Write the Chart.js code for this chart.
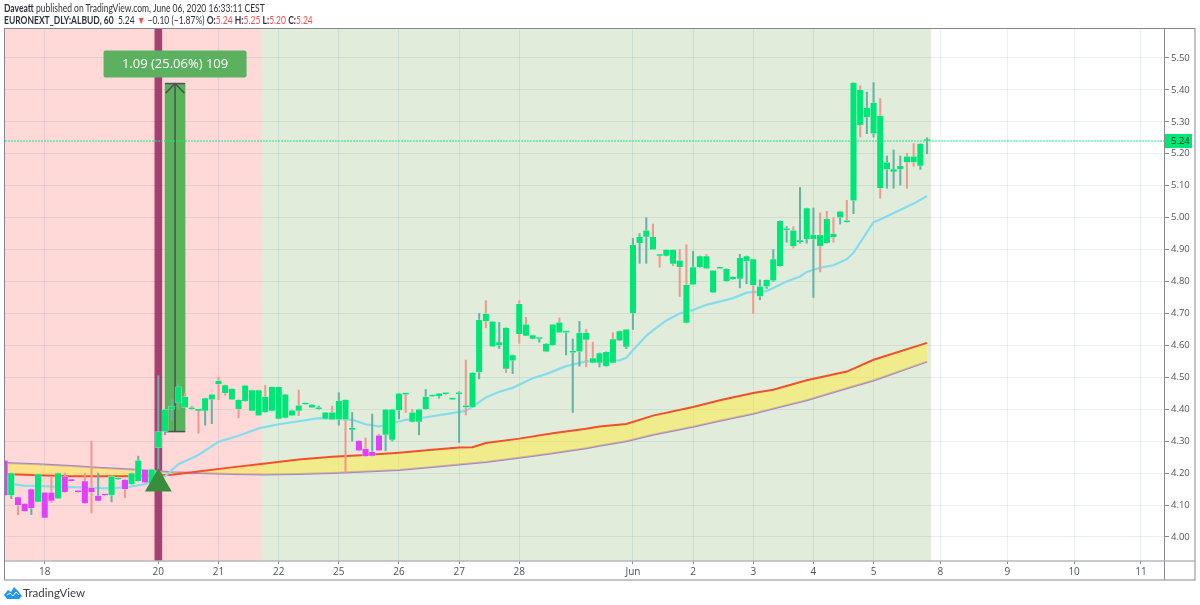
<!DOCTYPE html>
<html>
<head>
<meta charset="utf-8">
<title>EURONEXT_DLY:ALBUD, 60</title>
<script src="https://cdn.jsdelivr.net/npm/chart.js@4"></script>
<style>
    body { margin: 0; background: #fff; }
    #wrap { position: relative; width: 1200px; height: 605px; overflow: hidden; font-family: "Lato", sans-serif; color: #30323a; }
    #line1, #line2, #brand { position: absolute; white-space: nowrap; }
    #line1, #line2 { transform: scaleX(0.81); transform-origin: left top; }
    #line1 { left: 4px; top: 2px; font-size: 10.5px; line-height: 12px; }
    #line2 { left: 4px; top: 14px; font-size: 10.5px; line-height: 12px; }
    #line2 .down { color: #ef5350; }
    #brand { left: 23px; top: 586px; font-size: 11.5px; line-height: 13px; color: #3a3d45; }
    #cloud { position: absolute; left: 4px; top: 587px; }
</style>
</head>
<body>
<div id="wrap">
    <div id="line1"><b>Daveatt</b> published on TradingView.com, June 06, 2020 16:33:11 CEST</div>
    <div id="line2"><b>EURONEXT_DLY:ALBUD, 60</b>&nbsp; 5.24 <span class="down">&#9660;</span> &minus;0.10 (&minus;1.87%) <b>O:</b><span class="down">5.24</span> <b>H:</b><span class="down">5.25</span> <b>L:</b><span class="down">5.20</span> <b>C:</b><span class="down">5.24</span></div>
    <canvas id="chart" width="1200" height="605"></canvas>
    <svg id="cloud" width="18" height="12" viewBox="0 0 18 12"><path fill="#2196f3" d="M0 8 L4 3 L7 5 L10 0 L14 4 L18 9 L15 12 L3 12 Z"/><path fill="none" stroke="#fff" stroke-width="1" d="M3 8 L6 6 L9 9 L12 5 L15 8"/></svg>
    <div id="brand">TradingView</div>
</div>
<script>
// bar numbers of the day labels on the time axis
var tickBars = [6, 23, 32, 41, 50, 59, 68, 77, 94, 103, 112, 121, 130, 140, 150, 160, 170];
var tickLabels = ['18', '20', '21', '22', '25', '26', '27', '28', 'Jun', '2', '3', '4', '5', '8', '9', '10', '11'];
var priceTicks = [4.0, 4.1, 4.2, 4.3, 4.4, 4.5, 4.6, 4.7, 4.8, 4.9, 5.0, 5.1, 5.2, 5.3, 5.4, 5.5];

// hourly candles
var opens = [
    4.24, 4.13, 4.125, 4.105, 4.09, 4.11, 4.14, 4.14, 4.12, 4.19,
    4.18, 4.146, 4.175, 4.155, 4.113, 4.13, 4.13, 4.18, 4.18, 4.165,
    4.175, 4.21, 4.168, 4.28, 4.33, 4.40, 4.42, 4.44, 4.406, 4.40,
    4.395, 4.43, 4.49, 4.476, 4.465, 4.43, 4.425, 4.46, 4.46, 4.44,
    4.395, 4.47, 4.373, 4.38, 4.412, 4.415, 4.405, 4.40, 4.37, 4.39,
    4.367, 4.43, 4.335, 4.302, 4.277, 4.254, 4.318, 4.32, 4.304, 4.396,
    4.45, 4.39, 4.36, 4.40, 4.44, 4.44, 4.447, 4.43, 4.447, 4.41,
    4.406, 4.515, 4.70, 4.675, 4.60, 4.656, 4.552, 4.73, 4.666, 4.632,
    4.62, 4.58, 4.60, 4.672, 4.64, 4.577, 4.58, 4.64, 4.56, 4.545,
    4.534, 4.62, 4.615, 4.595, 4.70, 4.92, 4.94, 4.94, 4.885, 4.88,
    4.90, 4.866, 4.79, 4.79, 4.845, 4.88, 4.835, 4.84, 4.80, 4.807,
    4.808, 4.864, 4.87, 4.753, 4.784, 4.803, 4.848, 4.96, 4.96, 4.923,
    4.933, 4.933, 4.946, 4.996, 4.95, 5.0, 4.99, 5.053, 5.40, 5.314,
    5.263, 5.32, 5.151, 5.143, 5.151, 5.192, 5.192, 5.162, 5.24
];
var highs = [
    4.24, 4.20, 4.125, 4.105, 4.15, 4.197, 4.14, 4.19, 4.20, 4.20,
    4.18, 4.146, 4.20, 4.30, 4.20, 4.13, 4.19, 4.18, 4.18, 4.20,
    4.253, 4.21, 4.212, 4.505, 4.40, 4.43, 4.48, 4.45, 4.41, 4.40,
    4.435, 4.447, 4.50, 4.476, 4.465, 4.43, 4.475, 4.46, 4.46, 4.475,
    4.47, 4.47, 4.447, 4.397, 4.46, 4.415, 4.415, 4.41, 4.39, 4.41,
    4.452, 4.43, 4.39, 4.302, 4.31, 4.385, 4.322, 4.40, 4.40, 4.45,
    4.45, 4.40, 4.40, 4.462, 4.44, 4.45, 4.447, 4.43, 4.455, 4.554,
    4.515, 4.70, 4.74, 4.675, 4.672, 4.656, 4.57, 4.74, 4.688, 4.632,
    4.62, 4.606, 4.666, 4.686, 4.64, 4.62, 4.675, 4.65, 4.61, 4.576,
    4.58, 4.64, 4.645, 4.65, 4.935, 4.95, 5.00, 4.98, 4.885, 4.90,
    4.90, 4.90, 4.915, 4.895, 4.88, 4.885, 4.835, 4.84, 4.84, 4.815,
    4.885, 4.88, 4.87, 4.805, 4.805, 4.90, 4.99, 4.972, 4.972, 5.095,
    5.03, 5.03, 5.015, 5.02, 5.0, 5.02, 5.054, 5.423, 5.413, 5.393,
    5.423, 5.373, 5.193, 5.212, 5.193, 5.202, 5.232, 5.232, 5.25
];
var lows = [
    4.13, 4.12, 4.07, 4.08, 4.07, 4.11, 4.06, 4.108, 4.12, 4.14,
    4.175, 4.14, 4.105, 4.075, 4.113, 4.13, 4.11, 4.18, 4.123, 4.165,
    4.175, 4.17, 4.168, 4.20, 4.32, 4.365, 4.40, 4.405, 4.40, 4.325,
    4.35, 4.355, 4.43, 4.444, 4.43, 4.373, 4.425, 4.395, 4.38, 4.39,
    4.395, 4.37, 4.373, 4.38, 4.38, 4.415, 4.405, 4.40, 4.37, 4.367,
    4.35, 4.20, 4.30, 4.27, 4.252, 4.254, 4.27, 4.27, 4.30, 4.37,
    4.39, 4.36, 4.32, 4.40, 4.44, 4.435, 4.447, 4.43, 4.296, 4.382,
    4.406, 4.495, 4.655, 4.596, 4.59, 4.515, 4.512, 4.606, 4.63, 4.62,
    4.61, 4.58, 4.60, 4.64, 4.57, 4.39, 4.535, 4.533, 4.545, 4.532,
    4.534, 4.545, 4.615, 4.59, 4.65, 4.857, 4.857, 4.90, 4.845, 4.88,
    4.85, 4.753, 4.67, 4.79, 4.845, 4.84, 4.765, 4.84, 4.80, 4.807,
    4.78, 4.793, 4.70, 4.743, 4.778, 4.80, 4.848, 4.923, 4.905, 4.92,
    4.92, 4.75, 4.83, 4.92, 4.923, 4.98, 4.985, 5.0125, 5.252, 5.263,
    5.252, 5.061, 5.092, 5.092, 5.102, 5.092, 5.161, 5.151, 5.20
];
var closes = [
    4.13, 4.20, 4.10, 4.08, 4.15, 4.197, 4.06, 4.113, 4.20, 4.14,
    4.175, 4.14, 4.105, 4.14, 4.13, 4.13, 4.19, 4.18, 4.15, 4.20,
    4.24, 4.17, 4.212, 4.33, 4.40, 4.41, 4.47, 4.405, 4.40, 4.395,
    4.435, 4.447, 4.478, 4.45, 4.43, 4.40, 4.475, 4.395, 4.38, 4.39,
    4.47, 4.37, 4.447, 4.397, 4.395, 4.415, 4.415, 4.402, 4.39, 4.367,
    4.426, 4.367, 4.342, 4.27, 4.252, 4.267, 4.27, 4.40, 4.40, 4.45,
    4.446, 4.36, 4.40, 4.44, 4.44, 4.45, 4.447, 4.43, 4.447, 4.406,
    4.515, 4.68, 4.675, 4.596, 4.61, 4.526, 4.57, 4.635, 4.63, 4.62,
    4.62, 4.606, 4.666, 4.64, 4.64, 4.58, 4.64, 4.617, 4.545, 4.576,
    4.58, 4.545, 4.645, 4.65, 4.915, 4.94, 4.96, 4.90, 4.88, 4.90,
    4.855, 4.845, 4.67, 4.845, 4.88, 4.84, 4.765, 4.84, 4.84, 4.815,
    4.874, 4.88, 4.788, 4.785, 4.805, 4.87, 4.99, 4.96, 4.91, 4.93,
    5.03, 4.947, 4.91, 4.92, 4.938, 5.02, 4.985, 5.423, 5.29, 5.344,
    5.36, 5.092, 5.173, 5.152, 5.162, 5.173, 5.173, 5.232, 5.24
];
// bars painted magenta by the script on the chart
var magentaBars = [0, 2, 3, 4, 6, 7, 9, 10, 11, 12, 13, 14, 15, 18, 21, 53, 54, 55, 56];

// light blue average
var emaBars = [0, 3, 5, 8, 12, 15, 18, 21, 24, 26, 29, 32, 35, 38, 41, 44, 47, 50, 52, 54, 56, 58, 60, 63, 66, 69, 70, 72, 74, 76, 79, 81, 84, 87, 89, 92, 93, 94, 96, 97, 99, 101, 103, 105, 109, 111, 114, 117, 119, 120, 122, 124, 126, 127, 130, 131, 136, 138];
var emaValues = [4.17, 4.16, 4.16, 4.157, 4.155, 4.152, 4.155, 4.165, 4.19, 4.228, 4.257, 4.298, 4.317, 4.34, 4.353, 4.3625, 4.372, 4.37, 4.367, 4.353, 4.346, 4.356, 4.367, 4.375, 4.385, 4.395, 4.408, 4.437, 4.455, 4.467, 4.497, 4.51, 4.535, 4.55, 4.552, 4.553, 4.561, 4.585, 4.63, 4.647, 4.678, 4.70, 4.711, 4.727, 4.748, 4.765, 4.77, 4.80, 4.816, 4.83, 4.843, 4.851, 4.87, 4.89, 4.986, 4.994, 5.044, 5.068];

// red and purple averages with the yellow band between them
var bandBars = [0, 5, 10, 14, 19, 23, 25, 29, 34, 39, 44, 49, 54, 59, 64, 68, 70, 72, 77, 82, 87, 89, 93, 97, 103, 107, 112, 115, 120, 126, 130, 138];
var redValues = [4.197, 4.193, 4.19, 4.19, 4.19, 4.193, 4.195, 4.205, 4.218, 4.23, 4.243, 4.251, 4.257, 4.264, 4.273, 4.28, 4.281, 4.294, 4.308, 4.325, 4.339, 4.346, 4.354, 4.38, 4.407, 4.428, 4.451, 4.461, 4.491, 4.518, 4.555, 4.608];
var purpleValues = [4.232, 4.228, 4.222, 4.217, 4.211, 4.206, 4.203, 4.2, 4.197, 4.196, 4.197, 4.2, 4.205, 4.21, 4.219, 4.227, 4.231, 4.235, 4.248, 4.262, 4.278, 4.286, 4.30, 4.32, 4.345, 4.364, 4.386, 4.402, 4.428, 4.466, 4.49, 4.549];

var signalBar = 23;
var signalPrice = 4.167;
var lastPrice = 5.24;

// price range drawing
var measureFrom = 24;
var measureTo = 27;
var measureLow = 4.33;
var measureHigh = 5.42;
var measureText = '1.09 (25.06%) 109';

// background zones: [from bar, to bar]
var pinkZone = [0.06, 38.5];
var greenZone = [38.5, 138.6];

var xMin = 0.06, xMax = 173.6;
var yMin = 3.9248, yMax = 5.5908;

var GREEN = '#00e676';
var MAGENTA = '#e040fb';
var WICK_UP = '#66b3a6';
var WICK_DOWN = '#ee9a90';

var wickData = [], bodyData = [], wickColors = [], bodyColors = [];
for (var i = 0; i < opens.length; i++) {
    wickData.push({ x: i, y: [lows[i], highs[i]] });
    bodyData.push({ x: i, y: [opens[i], closes[i]] });
    wickColors.push(closes[i] >= opens[i] ? WICK_UP : WICK_DOWN);
    bodyColors.push(magentaBars.indexOf(i) >= 0 ? MAGENTA : GREEN);
}

function linePoints(xs, ys) {
    return xs.map(function(v, n) { return { x: v, y: ys[n] }; });
}

var measureMid = (measureFrom + measureTo) / 2;
var arrowSpread = 1.4, arrowDrop = 0.03;

// zones and frame
var chromePlugin = {
    id: 'chrome',
    beforeDraw: function(chart) {
        var c = chart.ctx, a = chart.chartArea, x = chart.scales.x;
        c.save();
        c.fillStyle = '#ffd9d8';
        c.fillRect(x.getPixelForValue(pinkZone[0]), a.top, x.getPixelForValue(pinkZone[1]) - x.getPixelForValue(pinkZone[0]), a.height);
        c.fillStyle = '#e1edda';
        c.fillRect(x.getPixelForValue(greenZone[0]), a.top, x.getPixelForValue(greenZone[1]) - x.getPixelForValue(greenZone[0]), a.height);
        c.restore();
    },
    afterDraw: function(chart) {
        var c = chart.ctx, a = chart.chartArea, x = chart.scales.x, y = chart.scales.y;
        c.save();
        c.strokeStyle = '#85888f';
        c.lineWidth = 1;
        c.strokeRect(4.5, 28.5, 1190.5, 551.5);
        c.beginPath();
        c.moveTo(a.right - 0.5, a.top);
        c.lineTo(a.right - 0.5, 580);
        c.stroke();
        c.strokeStyle = '#b4b6bc';
        c.lineWidth = 1.5;
        c.beginPath();
        c.moveTo(5, a.bottom);
        c.lineTo(1195, a.bottom);
        c.stroke();

        // last price tag
        var py = y.getPixelForValue(lastPrice);
        c.fillStyle = GREEN;
        c.fillRect(a.right, py - 7, 27, 14);
        c.fillStyle = '#10331f';
        c.font = '9.5px "Open Sans"';
        c.textAlign = 'left';
        c.textBaseline = 'middle';
        c.fillText(lastPrice.toFixed(2), a.right + 6, py + 0.5);

        // measure label
        var mx = x.getPixelForValue(measureMid);
        var my = y.getPixelForValue(measureHigh);
        c.fillStyle = '#5cb160';
        c.beginPath();
        c.roundRect(mx - 71.5, my - 33, 143, 27, 2);
        c.fill();
        c.fillStyle = '#fff';
        c.font = '13px "Open Sans"';
        c.textAlign = 'center';
        c.fillText(measureText, mx, my - 19);
        c.restore();
    }
};

var datasets = [
    // candle bodies on top, triangle above them
    { type: 'line', order: 0, data: [{ x: signalBar, y: signalPrice }], showLine: false, pointStyle: 'triangle', pointRadius: 15.5, pointBackgroundColor: '#388e3c', pointBorderWidth: 0 },
    { type: 'bar', order: 1, data: bodyData, backgroundColor: bodyColors, borderColor: 'rgba(255,255,255,0.55)', borderWidth: 0.5, borderSkipped: false, barThickness: 6.5, grouped: false, minBarLength: 2 },
    { type: 'bar', order: 2, data: wickData, backgroundColor: wickColors, barThickness: 1.4, grouped: false },
    { type: 'line', order: 3, data: linePoints(emaBars, emaValues), borderColor: '#84dcee', borderWidth: 2.2, pointRadius: 0, tension: 0 },
    { type: 'line', order: 4, data: linePoints(bandBars, redValues), borderColor: '#f1502b', borderWidth: 2, pointRadius: 0, tension: 0, fill: '+1', backgroundColor: 'rgba(255,235,59,0.5)' },
    { type: 'line', order: 5, data: linePoints(bandBars, purpleValues), borderColor: '#a484cf', borderWidth: 2, pointRadius: 0, tension: 0 },
    { type: 'line', order: 6, data: [{ x: xMin, y: lastPrice }, { x: xMax, y: lastPrice }], borderColor: '#1fe886', borderWidth: 1, borderDash: [2, 1], pointRadius: 0 },
    // price range arrow and caps
    { type: 'line', order: 7, data: [{ x: measureMid, y: measureLow }, { x: measureMid, y: measureHigh }], borderColor: '#4c4f57', borderWidth: 1.5, pointRadius: 0 },
    { type: 'line', order: 7, data: [{ x: measureMid - arrowSpread, y: measureHigh - arrowDrop }, { x: measureMid, y: measureHigh }, { x: measureMid + arrowSpread, y: measureHigh - arrowDrop }], borderColor: '#4c4f57', borderWidth: 1.5, pointRadius: 0 },
    { type: 'line', order: 7, data: [{ x: measureFrom, y: measureHigh }, { x: measureTo, y: measureHigh }], borderColor: '#4c4f57', borderWidth: 1.5, pointRadius: 0 },
    { type: 'line', order: 7, data: [{ x: measureFrom, y: measureLow }, { x: measureTo, y: measureLow }], borderColor: '#4c4f57', borderWidth: 1.5, pointRadius: 0 },
    { type: 'bar', order: 8, data: [{ x: measureMid, y: [measureLow, measureHigh] }], backgroundColor: 'rgba(76,175,80,0.92)', barThickness: 20, grouped: false },
    // signal band
    { type: 'bar', order: 9, data: [{ x: signalBar, y: [yMin, yMax] }], backgroundColor: 'rgba(136,14,79,0.75)', barThickness: 7, grouped: false }
];

var gridColor = 'rgba(42,100,150,0.1)';

new Chart(document.getElementById('chart').getContext('2d'), {
    data: { datasets: datasets },
    plugins: [chromePlugin],
    options: {
        responsive: false,
        animation: false,
        events: [],
        devicePixelRatio: 1,
        layout: { autoPadding: false, padding: { left: 5, top: 29, right: 5, bottom: 25 } },
        plugins: { legend: { display: false }, tooltip: { enabled: false } },
        scales: {
            x: {
                type: 'linear',
                offset: false,
                min: xMin,
                max: xMax,
                border: { display: false },
                grid: { offset: false, color: gridColor, tickColor: '#85888f', tickLength: 3 },
                ticks: {
                    color: '#50535e',
                    font: { family: '"Open Sans"', size: 10 },
                    padding: 2,
                    maxRotation: 0,
                    autoSkip: false,
                    callback: function(v) { return tickLabels[tickBars.indexOf(v)]; }
                },
                afterBuildTicks: function(s) { s.ticks = tickBars.map(function(v) { return { value: v }; }); },
                afterFit: function(s) { s.height = 19; s.paddingLeft = 0; s.paddingRight = 0; }
            },
            y: {
                type: 'linear',
                position: 'right',
                min: yMin,
                max: yMax,
                border: { display: false },
                grid: { color: gridColor, tickColor: '#85888f', tickLength: 4 },
                ticks: {
                    color: '#50535e',
                    font: { family: '"Open Sans"', size: 9.5 },
                    padding: 2,
                    callback: function(v) { return v.toFixed(2); }
                },
                afterBuildTicks: function(s) { s.ticks = priceTicks.map(function(v) { return { value: v }; }); },
                afterFit: function(s) { s.width = 30; s.paddingTop = 0; s.paddingBottom = 0; }
            }
        }
    }
});
</script>
</body>
</html>
